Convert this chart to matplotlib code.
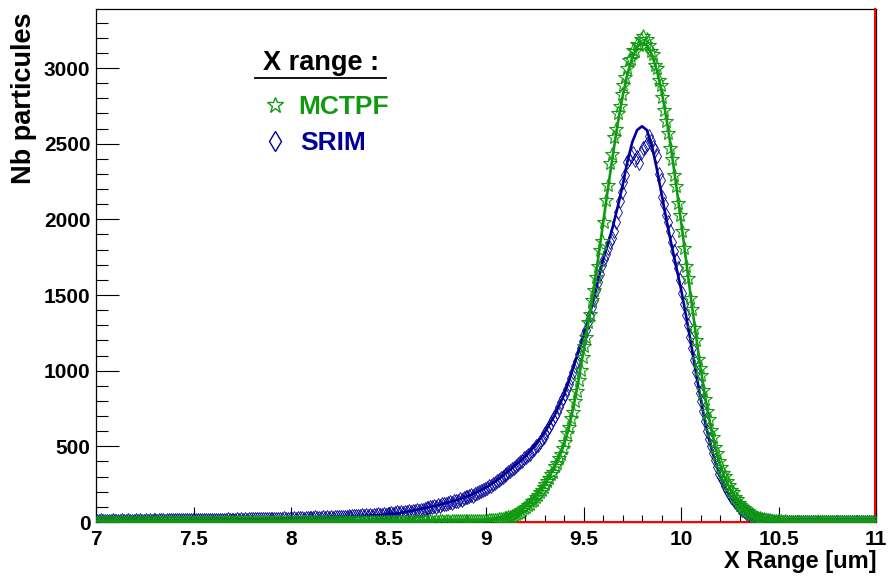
import numpy as np
import matplotlib.pyplot as plt
from matplotlib.lines import Line2D
from matplotlib.ticker import MultipleLocator, FuncFormatter

plt.rcParams['font.family'] = ['Liberation Sans', 'DejaVu Sans']
plt.rcParams['font.weight'] = 'bold'

W, H = 891, 581
GREEN = '#109a10'
BLUE = '#000099'

# histogram bins of 0.01 um from 7 to 11
bins = 7.005 + 0.01 * np.arange(400)

mctpf_counts = [
    2, 1, 3, 2, 1, 2, 3, 1, 2, 2,  1, 3, 2, 2, 1, 2, 1, 3, 2, 1,
    2, 2, 1, 3, 2, 1, 2, 2, 3, 1,  2, 1, 2, 3, 1, 2, 2, 1, 3, 2,
    1, 2, 3, 2, 2, 1, 2, 3, 1, 2,  2, 3, 1, 2, 2, 3, 1, 2, 2, 1,
    3, 2, 2, 1, 2, 3, 2, 1, 2, 3,  2, 1, 2, 3, 2, 2, 1, 3, 2, 2,
    1, 2, 3, 2, 1, 2, 3, 2, 2, 1,  2, 3, 2, 1, 3, 2, 2, 1, 2, 3,
    2, 2, 3, 1, 2, 3, 2, 2, 1, 2,  3, 2, 1, 2, 3, 2, 2, 3, 2, 1,
    2, 3, 2, 2, 1, 3, 2, 2, 3, 2,  2, 2, 3, 2, 3, 1, 2, 3, 2, 3,
    3, 2, 2, 3, 2, 3, 2, 2, 3, 3,  2, 3, 3, 2, 3, 2, 3, 3, 2, 3,
    3, 3, 2, 3, 4, 3, 3, 2, 4, 3,  3, 4, 3, 3, 4, 3, 4, 4, 3, 4,
    4, 3, 4, 5, 4, 4, 5, 4, 5, 5,  5, 4, 6, 5, 6, 7, 6, 7, 8, 8,
    8, 10, 11, 13, 14, 16, 18, 21, 23, 26,
    28, 32, 36, 40, 46, 52, 60, 68, 78, 92,
    100, 112, 122, 138, 148, 166, 176, 198, 210, 234,
    252, 270, 288, 320, 330, 368, 390, 425, 450, 492,
    530, 585, 625, 690, 728, 800, 865, 940, 1005, 1090,
    1160, 1225, 1320, 1375, 1470, 1535, 1620, 1690, 1800, 1860,
    1980, 2130, 2230, 2370, 2430, 2545, 2600, 2700, 2750, 2830,
    2890, 2940, 3000, 3050, 3060, 3120, 3110, 3160, 3150, 3190,
    3210, 3160, 3190, 3150, 3110, 3090, 3020, 3000, 2920, 2890,
    2810, 2720, 2650, 2570, 2470, 2400, 2290, 2220, 2110, 2030,
    1920, 1810, 1690, 1610, 1480, 1410, 1280, 1200, 1080, 1020,
    970, 875, 810, 735, 680, 605, 565, 495, 455, 405,
    365, 325, 305, 268, 245, 212, 195, 168, 152, 128,
    115, 97, 90, 76, 70, 57, 52, 41, 36, 28,
    24, 20, 17, 15, 12, 10, 9, 7, 6, 5,
    4, 4, 3, 4, 3, 3, 2, 3, 2, 3,  2, 3, 2, 2, 1, 2, 3, 2, 1, 2,
    2, 1, 2, 3, 2, 1, 2, 2, 1, 2,  1, 2, 2, 1, 3, 2, 1, 2, 2, 1,
    2, 1, 2, 2, 1, 2, 1, 2, 2, 1,
]

srim_counts = [
    8, 6, 10, 7, 7, 9, 5, 8, 10, 7,
    8, 9, 6, 10, 8, 7, 10, 8, 9, 8,
    10, 8, 11, 8, 9, 10, 8, 12, 9, 10,
    10, 9, 12, 10, 11, 8, 12, 10, 10, 11,
    12, 10, 13, 10, 12, 11, 14, 12, 10, 13,
    12, 14, 12, 14, 13, 16, 12, 14, 14, 15,
    14, 13, 16, 14, 16, 15, 13, 17, 14, 16,
    16, 15, 18, 15, 17, 16, 19, 15, 18, 17,
    18, 20, 17, 19, 18, 21, 18, 20, 19, 21,
    20, 19, 23, 20, 22, 21, 24, 20, 23, 22,
    23, 26, 22, 25, 24, 27, 23, 27, 25, 26,
    27, 25, 30, 26, 29, 28, 32, 27, 30, 29,
    31, 29, 34, 31, 33, 36, 32, 35, 33, 37,
    36, 40, 38, 42, 37, 41, 44, 39, 43, 41,
    45, 42, 47, 44, 50, 46, 44, 51, 47, 50,
    55, 58, 54, 60, 63, 57, 65, 61, 68, 64,
    70, 66, 74, 72, 79, 75, 82, 80, 86, 90,
    94, 98, 96, 104, 102, 110, 108, 116, 120, 118,
    126, 131, 128, 138, 142, 140, 150, 148, 158, 162,
    166, 170, 178, 175, 188, 192, 198, 206, 210, 220,
    226, 236, 240, 250, 258, 268, 275, 288, 296, 310,
    318, 330, 338, 350, 360, 372, 385, 396, 405, 420,
    428, 440, 452, 470, 480, 500, 512, 530, 548, 565,
    590, 610, 630, 655, 680, 700, 728, 760, 790, 820,
    845, 880, 910, 950, 990, 1030, 1065, 1110, 1150, 1195,
    1235, 1270, 1320, 1370, 1420, 1470, 1530, 1585, 1640, 1700,
    1740, 1770, 1810, 1850, 1880, 1920, 1985, 2050, 2120, 2180,
    2250, 2290, 2380, 2400, 2420, 2440, 2390, 2410, 2370, 2440,
    2470, 2480, 2500, 2550, 2520, 2480, 2460, 2420, 2300, 2260,
    2150, 2100, 2030, 1980, 1920, 1850, 1790, 1730, 1680, 1600,
    1510, 1440, 1370, 1300, 1220, 1150, 1070, 990, 920, 850,
    800, 735, 668, 600, 550, 500, 455, 410, 365, 320,
    300, 268, 240, 210, 190, 168, 150, 132, 118, 102,
    92, 80, 70, 62, 54, 46, 40, 34, 28, 23,
    19, 15, 12, 10, 8, 6, 5, 3, 2, 2,
    1, 1, 0, 1, 0, 0, 1, 0, 0, 0,
    0, 0, 0, 0, 0, 0, 0, 0, 0, 0,  0, 0, 0, 0, 0, 0, 0, 0, 0, 0,
    0, 0, 0, 0, 0, 0, 0, 0, 0, 0,  0, 0, 0, 0, 0, 0, 0, 0, 0, 0,
]

# fitted curves, sampled every 0.025 um
fit_x = np.linspace(7, 11, 161)

mctpf_fit = [
    0, 0, 0, 0, 0, 0, 0, 0, 0, 0,  0, 0, 0, 0, 0, 0, 0, 0, 0, 0,
    0, 0, 0, 0, 0, 0, 0, 0, 0, 0,  0, 0, 0, 0, 0, 0, 0, 0, 0, 0,
    0, 0, 0, 0, 0, 0, 0, 0, 0, 0,  0, 0, 0, 0, 0, 0, 0, 0, 0, 0,
    1, 1, 1, 1, 1, 1, 1, 2, 2, 2,  2, 3, 3, 3, 4, 4, 5, 5, 6, 7,
    8, 11, 15, 20, 27, 36, 50, 72, 100, 130,
    162, 200, 245, 300, 360, 430, 510, 620, 770, 940,
    1130, 1320, 1520, 1740, 1970, 2200, 2420, 2630, 2810, 2960,
    3070, 3140, 3165, 3150, 3090, 2990, 2850, 2670, 2460, 2230,
    1990, 1740, 1490, 1250, 1020, 820, 650, 505, 385, 290,
    220, 165, 120, 85, 60, 40, 26, 16, 10, 6,
    3, 2, 1, 1, 0, 0, 0, 0, 0, 0,  0, 0, 0, 0, 0, 0, 0, 0, 0, 0,
    0,
]

srim_fit = [
    8, 8, 8, 9, 9, 9, 9, 10, 10, 10,
    10, 11, 11, 12, 12, 12, 13, 13, 13, 14,
    14, 14, 15, 15, 16, 16, 17, 17, 18, 18,
    19, 19, 20, 20, 21, 22, 22, 23, 24, 24,
    25, 26, 27, 28, 29, 30, 31, 32, 33, 34,
    35, 36, 38, 39, 40, 42, 43, 45, 46, 48,
    51, 54, 57, 63, 70, 76, 82, 89, 96, 103,
    110, 118, 127, 136, 145, 156, 167, 180, 195, 210,
    227, 248, 270, 294, 320, 347, 375, 402, 430, 467,
    505, 547, 590, 645, 700, 770, 840, 930, 1030, 1130,
    1230, 1340, 1460, 1595, 1730, 1840, 1950, 2080, 2220, 2380,
    2510, 2590, 2615, 2590, 2490, 2340, 2170, 2000, 1840, 1690,
    1540, 1370, 1190, 1000, 820, 650, 515, 400, 305, 230,
    170, 130, 95, 68, 47, 30, 18, 10, 5, 2,
    0, 0, 0, 0, 0, 0, 0, 0, 0, 0,  0, 0, 0, 0, 0, 0, 0, 0, 0, 0,
    0,
]

Y_TOP = 3390


def fig_xy(x, y):
    # pixel position in the picture -> figure fraction
    return x / W, 1 - y / H


fig = plt.figure(figsize=(W / 100, H / 100), dpi=100)
ax = fig.add_axes([96 / W, 1 - 522 / H, 780 / W, 513 / H])

ax.plot(bins, srim_counts, ls='none', marker='d', ms=7, mfc='none',
        mec=BLUE, mew=0.6, zorder=4)
ax.plot(fit_x, srim_fit, color=BLUE, lw=1.9, zorder=5)
ax.plot(bins, mctpf_counts, ls='none', marker='*', ms=10, mfc='none',
        mec=GREEN, mew=0.8, zorder=6)
ax.plot(fit_x, mctpf_fit, color=GREEN, lw=1.9, zorder=7)

# red function frame along the bottom and the right edge
ax.plot([9.09, 10.996, 10.996], [0, 0, Y_TOP], color='red', lw=1.5,
        clip_on=False, zorder=3)

ax.set_xlim(7, 11)
ax.set_ylim(0, Y_TOP)
ax.xaxis.set_major_locator(MultipleLocator(0.5))
ax.xaxis.set_minor_locator(MultipleLocator(0.1))
ax.yaxis.set_major_locator(MultipleLocator(500))
ax.yaxis.set_minor_locator(MultipleLocator(100))
ax.xaxis.set_major_formatter(FuncFormatter(lambda v, p: f'{v:g}'))
ax.tick_params(which='both', direction='in', top=False, right=False,
               width=0.8, labelsize=15)
ax.tick_params(axis='x', which='major', length=10.8, pad=5.5)
ax.tick_params(axis='x', which='minor', length=5.4)
ax.tick_params(axis='y', which='major', length=16.6, pad=4)
ax.tick_params(axis='y', which='minor', length=8.3)
for lab in ax.get_xticklabels() + ax.get_yticklabels():
    lab.set_fontweight('bold')
for sp in ax.spines.values():
    sp.set_linewidth(0.9)

# axis titles
fig.text(*fig_xy(24, 12), 'Nb particules', rotation=90, ha='center',
         va='top', fontsize=19.5, fontweight='bold')
fig.text(*fig_xy(877, 568), 'X Range [um]', ha='right', va='baseline',
         fontsize=17, fontweight='bold')

# legend box (no frame)
fig.text(*fig_xy(321, 70), 'X range :', ha='center', va='baseline',
         fontsize=19.5, fontweight='bold')
fig.add_artist(Line2D([255 / W, 386 / W], [1 - 78 / H, 1 - 78 / H],
                      color='black', lw=1.3, transform=fig.transFigure))
fig.add_artist(Line2D([275 / W], [1 - 105 / H], marker='*', ms=12,
                      mfc='none', mec=GREEN, mew=1.0, ls='none',
                      transform=fig.transFigure))
fig.add_artist(Line2D([275 / W], [1 - 141 / H], marker='d', ms=10,
                      mfc='none', mec=BLUE, mew=1.0, ls='none',
                      transform=fig.transFigure))
fig.text(*fig_xy(298, 114), 'MCTPF', ha='left', va='baseline',
         fontsize=19, fontweight='bold', color=GREEN)
fig.text(*fig_xy(300, 150), 'SRIM', ha='left', va='baseline',
         fontsize=19, fontweight='bold', color=BLUE)

fig.savefig('out.png', dpi=100)
